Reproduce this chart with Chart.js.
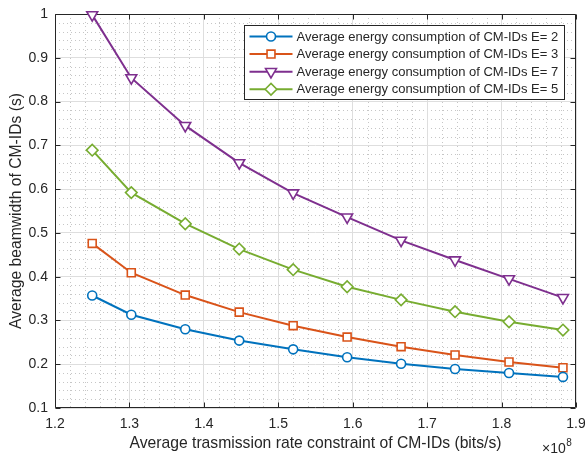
<!DOCTYPE html>
<html>
<head>
<meta charset="utf-8">
<title>Beamwidth vs. rate constraint</title>
<script src="https://cdn.jsdelivr.net/npm/chart.js@4.4.0/dist/chart.umd.min.js"></script>
<style>
  html, body { margin: 0; padding: 0; background: #fff; }
  canvas { display: block; }
</style>
</head>
<body>
<canvas id="beamChart" width="585" height="457"></canvas>
<script>
// Rate constraint (units of 1e8 bits/s) and average beamwidth per energy level
const rates = [1.25, 1.3025, 1.375, 1.4475, 1.52, 1.5925, 1.665, 1.7375, 1.81, 1.8825];
const beamE2 = [0.357, 0.313, 0.280, 0.254, 0.234, 0.216, 0.201, 0.189, 0.180, 0.171];
const beamE3 = [0.476, 0.409, 0.358, 0.319, 0.288, 0.262, 0.240, 0.221, 0.205, 0.192];
const beamE7 = [0.998, 0.854, 0.745, 0.660, 0.591, 0.536, 0.483, 0.438, 0.395, 0.352];
const beamE5 = [0.689, 0.592, 0.521, 0.463, 0.416, 0.377, 0.347, 0.320, 0.297, 0.278];

const xTicks = [1.2, 1.3, 1.4, 1.5, 1.6, 1.7, 1.8, 1.9];
const yTicks = [0.1, 0.2, 0.3, 0.4, 0.5, 0.6, 0.7, 0.8, 0.9, 1];

const seriesLabels = [
    "Average energy consumption of CM-IDs E= 2",
    "Average energy consumption of CM-IDs E= 3",
    "Average energy consumption of CM-IDs E= 7",
    "Average energy consumption of CM-IDs E= 5",
];

const colors = {
    blue: "#0072BD",
    orange: "#D95319",
    purple: "#7E2F8E",
    green: "#77AC30",
    axis: "#262626",
    grid: "#dedede",
    minor: "#c6c6c6",
};

const FONT = "'Liberation Sans', Arial, sans-serif";
Chart.defaults.font.family = FONT;
Chart.defaults.color = colors.axis;

function series(label, values, color, style, radius, rotation) {
    return {
        label: label,
        data: rates.map((x, i) => ({ x: x, y: values[i] })),
        borderColor: color,
        backgroundColor: "#fff",
        borderWidth: 2,
        pointStyle: style,
        pointRadius: radius,
        pointRotation: rotation || 0,
        pointBorderColor: color,
        pointBackgroundColor: "#fff",
        pointBorderWidth: 1.6,
        tension: 0,
        clip: false,
    };
}

// dotted minor grid (5 subdivisions per major step) under everything
const minorGrid = {
    id: "minorGrid",
    beforeDraw(chart) {
        const { ctx, chartArea: a, scales } = chart;
        ctx.save();
        ctx.fillStyle = "#fff";
        ctx.fillRect(0, 0, chart.width, chart.height);
        ctx.strokeStyle = colors.minor;
        ctx.lineWidth = 1;
        ctx.setLineDash([1, 3]);
        ctx.beginPath();
        for (let i = 0; i < xTicks.length - 1; i++) {
            for (let k = 1; k < 5; k++) {
                const v = xTicks[i] + (xTicks[i + 1] - xTicks[i]) * k / 5;
                const px = Math.round(scales.x.getPixelForValue(v)) + 0.5;
                ctx.moveTo(px, a.top);
                ctx.lineTo(px, a.bottom);
            }
        }
        for (let i = 0; i < yTicks.length - 1; i++) {
            for (let k = 1; k < 5; k++) {
                const v = yTicks[i] + (yTicks[i + 1] - yTicks[i]) * k / 5;
                const py = Math.round(scales.y.getPixelForValue(v)) + 0.5;
                ctx.moveTo(a.left, py);
                ctx.lineTo(a.right, py);
            }
        }
        ctx.stroke();
        ctx.restore();
    },
};

// axes box with inward tick marks on all four sides
const axesBox = {
    id: "axesBox",
    beforeDatasetsDraw(chart) {
        const { ctx, chartArea: a, scales } = chart;
        const L = Math.round(a.left) + 0.5, R = Math.round(a.right) - 0.5;
        const T = Math.round(a.top) + 0.5, B = Math.round(a.bottom) - 0.5;
        const len = 5;
        ctx.save();
        ctx.strokeStyle = colors.axis;
        ctx.lineWidth = 1;
        ctx.beginPath();
        ctx.rect(L, T, R - L, B - T);
        xTicks.forEach(v => {
            const px = Math.round(scales.x.getPixelForValue(v)) + 0.5;
            ctx.moveTo(px, B); ctx.lineTo(px, B - len);
            ctx.moveTo(px, T); ctx.lineTo(px, T + len);
        });
        yTicks.forEach(v => {
            const py = Math.round(scales.y.getPixelForValue(v)) + 0.5;
            ctx.moveTo(L, py); ctx.lineTo(L + len, py);
            ctx.moveTo(R, py); ctx.lineTo(R - len, py);
        });
        ctx.stroke();
        ctx.restore();
    },
};

// boxed legend in the upper right corner plus the x10^8 exponent label
const boxedLegend = {
    id: "boxedLegend",
    afterDraw(chart) {
        const { ctx, chartArea: a } = chart;
        ctx.save();
        ctx.font = "13px " + FONT;
        const textW = Math.max(...chart.data.datasets.map(d => ctx.measureText(d.label).width));
        const lineLen = 43, rowH = 17.6;
        const w = Math.round(5 + lineLen + 4 + textW + 6);
        const h = 74;
        const right = Math.round(a.right) - 12;
        const x0 = right - w + 0.5, y0 = Math.round(a.top) + 11.5;

        ctx.fillStyle = "#fff";
        ctx.fillRect(x0, y0, w, h);
        ctx.strokeStyle = colors.axis;
        ctx.lineWidth = 1;
        ctx.strokeRect(x0, y0, w, h);

        chart.data.datasets.forEach((d, i) => {
            const cy = y0 + 11 + i * rowH;
            const lx = x0 + 5;
            ctx.strokeStyle = d.borderColor;
            ctx.lineWidth = d.borderWidth;
            ctx.beginPath();
            ctx.moveTo(lx, cy);
            ctx.lineTo(lx + lineLen, cy);
            ctx.stroke();
            ctx.fillStyle = "#fff";
            ctx.lineWidth = d.pointBorderWidth;
            Chart.helpers.drawPoint(ctx, {
                pointStyle: d.pointStyle,
                rotation: d.pointRotation,
                radius: d.pointRadius,
                borderWidth: d.pointBorderWidth,
            }, lx + lineLen / 2, cy);
            ctx.fillStyle = colors.axis;
            ctx.textBaseline = "middle";
            ctx.textAlign = "left";
            ctx.fillText(d.label, lx + lineLen + 4, cy + 0.5);
        });

        // exponent of the x axis
        ctx.fillStyle = colors.axis;
        ctx.textBaseline = "alphabetic";
        ctx.textAlign = "left";
        ctx.font = "14px " + FONT;
        const ex = Math.round(a.right) - 34, ey = 453;
        ctx.fillText("\u00d710", ex, ey);
        const wBase = ctx.measureText("\u00d710").width;
        ctx.font = "10px " + FONT;
        ctx.fillText("8", ex + wBase + 0.5, ey - 7);
        ctx.restore();
    },
};

new Chart(document.getElementById("beamChart").getContext("2d"), {
    type: "line",
    data: {
        datasets: [
            series(seriesLabels[0], beamE2, colors.blue, "circle", 4.5),
            series(seriesLabels[1], beamE3, colors.orange, "rect", 5.6),
            series(seriesLabels[2], beamE7, colors.purple, "triangle", 6.3, 180),
            series(seriesLabels[3], beamE5, colors.green, "rectRot", 5.8),
        ],
    },
    options: {
        responsive: false,
        animation: false,
        layout: {
            padding: { top: 14, right: 9, left: 0, bottom: 0 },
        },
        plugins: {
            legend: { display: false },
            tooltip: { enabled: false },
        },
        scales: {
            x: {
                type: "linear",
                min: 1.2,
                max: 1.9,
                afterBuildTicks: s => { s.ticks = xTicks.map(v => ({ value: v })); },
                afterFit: s => {
                    s.height = 49;
                    s.paddingLeft = 0;
                    s.paddingRight = 0;
                },
                ticks: {
                    padding: 8,
                    font: { size: 14 },
                    color: colors.axis,
                    maxRotation: 0,
                    callback: v => v.toFixed(1),
                },
                grid: { color: colors.grid, drawTicks: false },
                border: { display: false },
                title: {
                    display: true,
                    text: "Average trasmission rate constraint of CM-IDs (bits/s)",
                    font: { size: 15.7 },
                    color: colors.axis,
                    padding: { top: 0, bottom: 4 },
                },
            },
            y: {
                type: "linear",
                min: 0.1,
                max: 1,
                afterBuildTicks: s => { s.ticks = yTicks.map(v => ({ value: v })); },
                afterFit: s => {
                    s.width = 55;
                    s.paddingTop = 0;
                    s.paddingBottom = 0;
                },
                ticks: {
                    padding: 7,
                    font: { size: 14 },
                    color: colors.axis,
                    callback: v => String(+v.toFixed(1)),
                },
                grid: { color: colors.grid, drawTicks: false },
                border: { display: false },
                title: {
                    display: true,
                    text: "Average beamwidth of CM-IDs (s)",
                    font: { size: 15.7 },
                    color: colors.axis,
                    padding: { top: 7, bottom: 0 },
                },
            },
        },
    },
    plugins: [minorGrid, axesBox, boxedLegend],
});
</script>
</body>
</html>
